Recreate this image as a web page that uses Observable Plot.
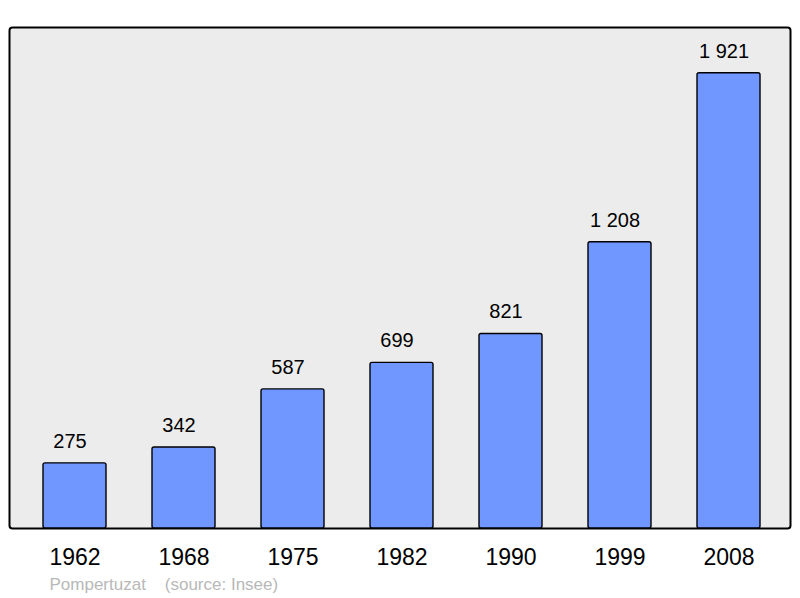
<!DOCTYPE html>
<html><head><meta charset="utf-8">
<script src="https://cdn.jsdelivr.net/npm/d3@7"></script>
<script src="https://cdn.jsdelivr.net/npm/@observablehq/plot@0.6"></script>
<style>
body{margin:0;background:#fff;}
svg{display:block;}
</style>
</head><body>
<div id="chart"></div>
<script>
const years = ["1962","1968","1975","1982","1990","1999","2008"];
const population = [275, 342, 587, 699, 821, 1208, 1921];
const valueLabels = ["275","342","587","699","821","1 208","1 921"];
const caption = "Pompertuzat\u00a0\u00a0\u00a0\u00a0(source: Insee)";

const data = years.map((y, i) => ({year: y, pop: population[i], label: valueLabels[i]}));

const chart = Plot.plot({
  width: 800,
  height: 598,
  marginTop: 27,
  marginBottom: 70,
  marginLeft: 18,
  marginRight: 16,
  style: {fontFamily: "'Liberation Sans', Arial, sans-serif", background: "#fff"},
  x: {domain: years, paddingInner: 0.425, paddingOuter: 0.2125, label: null},
  y: {domain: [0, 2114], axis: null},
  marks: [
    Plot.frame({fill: "#ececec", stroke: "#000", strokeWidth: 2, rx: 3, insetLeft: -9, insetRight: -6}),
    Plot.barY(data, {x: "year", y: "pop", fill: "#7097ff", stroke: "#000", strokeWidth: 1.4, rx: 2}),
    Plot.text(data, {x: "year", y: "pop", text: "label", dx: -5, dy: -22, fontSize: 20, fill: "#000", lineAnchor: "middle"}),
    Plot.axisX({tickSize: 0, tickPadding: 20, fontSize: 23, color: "#000", label: null}),
    Plot.text([caption], {frameAnchor: "bottom-left", dx: 31, dy: 56, fontSize: 17, fill: "#b8b8b8", textAnchor: "start", lineAnchor: "middle"})
  ]
});
document.getElementById("chart").appendChild(chart);
</script>
</body></html>
